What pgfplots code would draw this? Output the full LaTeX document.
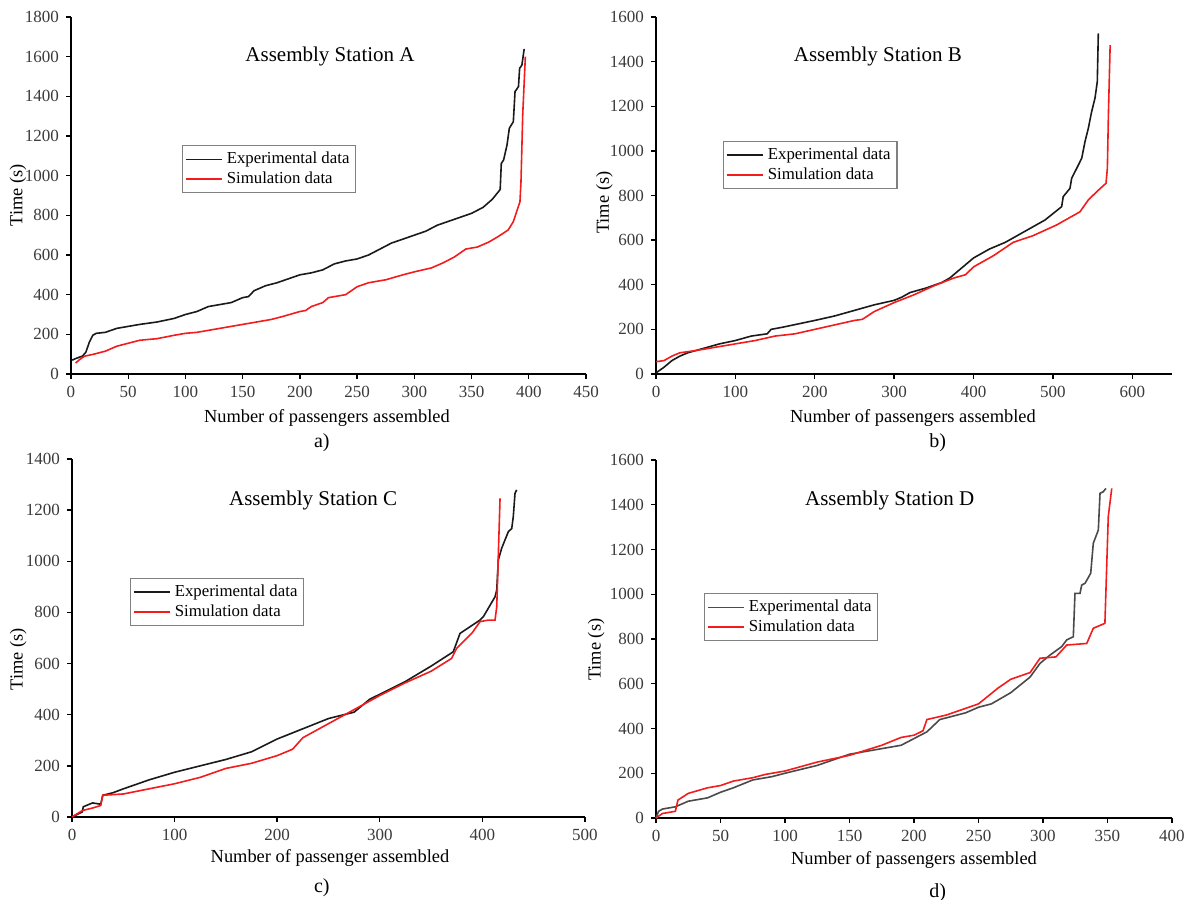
\documentclass[border=0pt]{standalone}
\usepackage{fontspec}
\setmainfont{Liberation Serif}
\usepackage{pgfplots}
\pgfplotsset{compat=1.18}

\definecolor{expblack}{HTML}{1A1A1A}
\definecolor{expgrey}{HTML}{4A4A4A}
\definecolor{simred}{HTML}{F21C1C}
\definecolor{ticknum}{HTML}{3A3A3A}

\pgfplotsset{
  panel/.style={
    scale only axis, anchor=south west,
    axis x line=bottom, axis y line=left,
    axis line style={-, line width=0.8pt},
    tick align=outside, major tick length=2.5pt,
    tick style={line width=0.7pt, black},
    xmin=0, ymin=0, clip=false,
    ticklabel style={font=\fontsize{8.5}{10}\selectfont, text=ticknum},
    /pgf/number format/assume math mode=true,
    /pgf/number format/1000 sep={},
    label style={font=\fontsize{9.2}{11}\selectfont},
    ylabel={Time (s)},
    legend style={font=\fontsize{8.4}{9.5}\selectfont, draw=gray, line width=0.6pt,
      anchor=north west, cells={anchor=west}, inner sep=1.2pt, row sep=-1.5pt},
    legend image code/.code={\draw[##1, line width=0.9pt] (0pt,0pt) -- (18pt,0pt);},
  },
  exp/.style={expblack, line width=0.8pt},
  sim/.style={simred, line width=0.8pt},
}

\begin{document}
\begin{tikzpicture}
\useasboundingbox (0,0) rectangle (592.5pt,450pt);

% ---------- a) ----------
\begin{axis}[panel, at={(35.5pt,263pt)}, width=257.5pt, height=178.5pt,
    xmax=450, ymax=1800, xtick distance=50, ytick distance=200,
    xlabel={Number of passengers assembled},
    xlabel style={at={(axis description cs:0.497,-0.123)}, anchor=center},
    ylabel style={at={(axis description cs:-0.103,0.5)}, anchor=center},
    legend style={at={(rel axis cs:0.2155,0.641)}}]
\addplot[exp] coordinates {
 (1,70) (5,80) (10,90) (13,110) (16,160) (19,195) (22,205) (30,210) (40,230)
 (50,240) (60,250) (75,262) (90,280) (100,300) (110,315) (120,340) (130,350)
 (140,360) (150,385) (155,390) (160,420) (170,445) (180,460) (190,480) (200,500)
 (210,510) (220,525) (230,555) (240,570) (250,580) (260,600) (270,630) (280,660)
 (290,680) (300,700) (310,720) (320,750) (330,770) (340,790) (350,810) (360,840)
 (368,880) (375,930) (376,1062) (378,1079) (381,1155) (383,1239) (386.5,1272)
 (388,1424) (391,1449) (392,1541) (394,1558) (396,1639)
};
\addlegendentry{Experimental data}
\addplot[sim] coordinates {
 (4,55) (8,75) (12,90) (20,100) (30,115) (40,140) (50,155) (60,170) (75,178)
 (90,195) (100,205) (110,210) (125,225) (140,240) (150,250) (160,260) (175,275)
 (185,290) (200,315) (205,320) (210,340) (220,360) (225,385) (240,400) (250,440)
 (260,460) (275,475) (290,500) (300,515) (315,535) (325,560) (335,590) (345,630)
 (355,640) (365,665) (373,692) (382,726) (386.5,768) (389.4,818) (392.3,869)
 (393.2,970) (394.7,1306) (397,1600)
};
\addlegendentry{Simulation data}
\node[font=\fontsize{10.5}{12}\selectfont] at (rel axis cs:0.503,0.888) {Assembly Station A};
\node[font=\fontsize{10}{12}\selectfont] at (rel axis cs:0.487,-0.193) {a)};
\end{axis}

% ---------- b) ----------
\begin{axis}[panel, at={(328pt,263pt)}, width=258pt, height=178.5pt,
    xmax=650, ymax=1600, xtick distance=100, ytick distance=200,
    xlabel={Number of passengers assembled},
    xlabel style={at={(axis description cs:0.498,-0.123)}, anchor=center},
    ylabel style={at={(axis description cs:-0.10,0.48)}, anchor=center},
    legend style={at={(rel axis cs:0.130,0.653)}}]
\addplot[exp] coordinates {
 (0,5) (10,30) (20,60) (30,80) (40,95) (60,115) (80,135) (100,150) (120,170)
 (140,180) (145,200) (160,210) (180,225) (200,240) (225,260) (250,285) (275,310)
 (300,330) (310,345) (320,365) (340,385) (360,410) (370,430) (380,460) (390,490)
 (400,520) (420,560) (440,590) (460,630) (475,660) (490,690) (511,750) (513,795)
 (521.5,832) (523.6,877) (530,922) (536.3,967) (540.4,1041) (544.6,1101)
 (548.8,1176) (553,1236) (555.9,1310) (557.2,1527)
};
\addlegendentry{Experimental data}
\addplot[sim] coordinates {
 (0,55) (10,60) (20,80) (30,95) (50,105) (75,120) (100,135) (125,150) (150,170)
 (175,180) (200,200) (225,220) (250,240) (260,245) (275,280) (300,320)
 (325,355) (350,395) (375,430) (390,445) (400,480) (425,530) (450,590)
 (475,620) (504.7,668) (534.1,727) (544.6,780) (555.2,817) (566.9,855)
 (568.6,922) (569.9,1161) (572.1,1474)
};
\addlegendentry{Simulation data}
\node[font=\fontsize{10.5}{12}\selectfont] at (rel axis cs:0.43,0.888) {Assembly Station B};
\node[font=\fontsize{10}{12}\selectfont] at (rel axis cs:0.546,-0.193) {b)};
\end{axis}

% ---------- c) ----------
\begin{axis}[panel, at={(36pt,41.5pt)}, width=256.5pt, height=179pt,
    xmax=500, ymax=1400, xtick distance=100, ytick distance=200,
    xlabel={Number of passenger assembled},
    xlabel style={at={(axis description cs:0.503,-0.115)}, anchor=center},
    ylabel style={at={(axis description cs:-0.105,0.44)}, anchor=center},
    legend style={at={(rel axis cs:0.113,0.668)}}]
\addplot[exp] coordinates {
 (0,0) (10,20) (11,40) (20,55) (28,50) (30,85) (40,95) (50,110) (75,145)
 (100,175) (125,200) (150,225) (175,255) (200,305) (225,345) (250,385)
 (275,410) (290,460) (300,480) (325,530) (350,590) (371.6,646) (378.2,718)
 (397.7,770) (400.9,783) (412.3,861) (414,888) (415.5,1005) (418.8,1051)
 (422,1083) (425.3,1116) (428.6,1128) (430.1,1174) (431.8,1266) (433.4,1279)
};
\addlegendentry{Experimental data}
\addplot[sim] coordinates {
 (0,0) (10,25) (20,35) (28,45) (30,85) (50,90) (75,110) (100,130) (125,155)
 (150,190) (175,210) (200,240) (215,265) (225,310) (250,365) (275,420)
 (300,475) (325,525) (350,570) (370,620) (375,660) (390,720) (397.7,764)
 (405.8,770) (412.3,770) (414,822) (417.2,1246)
};
\addlegendentry{Simulation data}
\node[font=\fontsize{10.5}{12}\selectfont] at (rel axis cs:0.47,0.885) {Assembly Station C};
\node[font=\fontsize{10}{12}\selectfont] at (rel axis cs:0.487,-0.198) {c)};
\end{axis}

% ---------- d) ----------
\begin{axis}[panel, at={(328pt,41pt)}, width=258pt, height=179pt,
    xmax=400, ymax=1600, xtick distance=50, ytick distance=200,
    xlabel={Number of passengers assembled},
    xlabel style={at={(axis description cs:0.5,-0.117)}, anchor=center},
    ylabel style={at={(axis description cs:-0.116,0.47)}, anchor=center},
    legend style={at={(rel axis cs:0.093,0.628)}}]
\addplot[expgrey, line width=0.8pt] coordinates {
 (0,0) (2,30) (5,40) (15,50) (25,75) (40,90) (50,115) (60,135) (75,170)
 (90,185) (100,200) (125,235) (150,285) (175,310) (190,325) (200,355)
 (210,385) (220,440) (240,470) (250,495) (260,510) (275,560) (290,630)
 (297.7,691) (305.4,728) (314.5,766) (318.4,796) (323.5,810) (324.8,1004)
 (328.7,1004) (330,1041) (332.6,1049) (337,1094) (339,1228) (342.9,1287)
 (344.2,1451) (346.7,1458) (348.8,1473)
};
\addlegendentry{Experimental data}
\addplot[sim] coordinates {
 (0,0) (5,20) (15,30) (17,80) (25,110) (40,135) (50,145) (60,165) (75,180)
 (85,195) (100,210) (125,250) (150,280) (175,325) (190,360) (200,370)
 (207,390) (210,440) (225,460) (250,510) (265,580) (275,620) (290,650)
 (297.7,714) (310,720) (318.4,773) (333.9,780) (339,848) (348,870)
 (350.6,1347) (353.3,1473)
};
\addlegendentry{Simulation data}
\node[font=\fontsize{10.5}{12}\selectfont] at (rel axis cs:0.453,0.888) {Assembly Station D};
\node[font=\fontsize{10}{12}\selectfont] at (rel axis cs:0.546,-0.21) {d)};
\end{axis}
\end{tikzpicture}
\end{document}
